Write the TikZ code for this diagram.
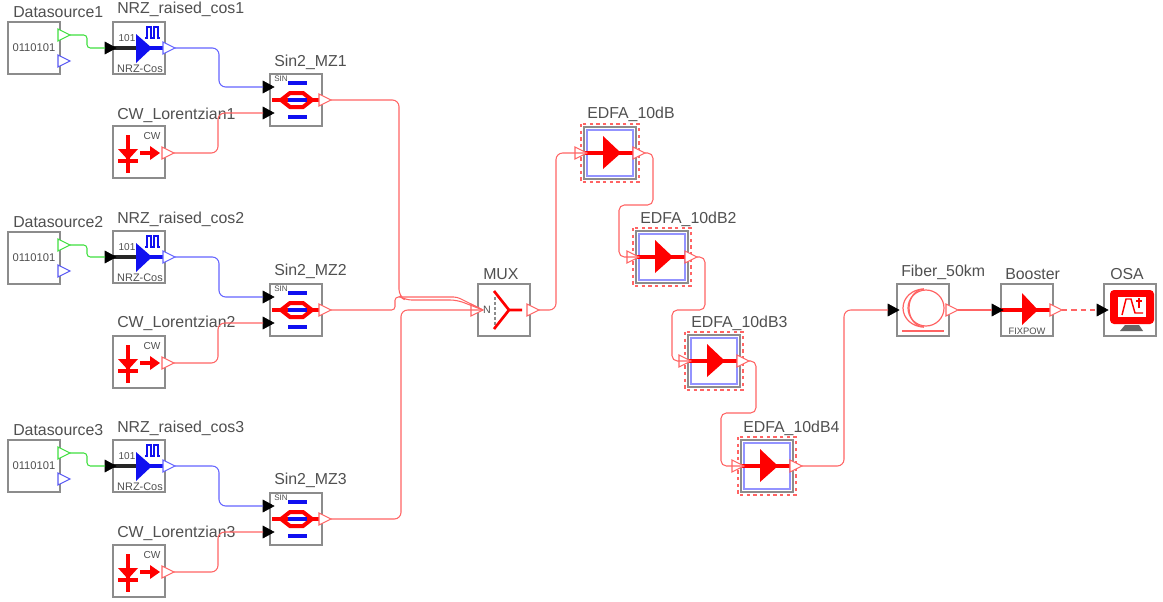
\documentclass[tikz,border=0pt]{standalone}
\usepackage{fontspec}
\setmainfont{Liberation Sans}
\definecolor{wr}{HTML}{FF6464}
\definecolor{wb}{HTML}{6464FF}
\definecolor{wg}{HTML}{40E040}
\definecolor{sred}{HTML}{FF0000}
\definecolor{sblue}{HTML}{1010F0}
\definecolor{boxg}{HTML}{8C8C8C}
\definecolor{txt}{HTML}{505050}
\tikzset{
  x=0.75pt,y=-0.75pt,
  blockbox/.style={draw=boxg,line width=1pt,fill=white,minimum width=39pt,minimum height=39pt,inner sep=0pt,outer sep=0pt,anchor=north west},
  lbl/.style={text=txt,font=\fontsize{11.9pt}{13pt}\selectfont,anchor=west,inner sep=0pt},
  tiny/.style={text=txt,inner sep=0pt},
  conn/.style={line width=0.8pt,rounded corners=5pt},
  redc/.style={conn,draw=wr},
  bluec/.style={conn,draw=wb},
  greenc/.style={conn,draw=wg,rounded corners=2.5pt},
  chainc/.style={redc,rounded corners=4pt},
  thickred/.style={draw=sred,line width=2.8pt},
  thickblue/.style={draw=sblue,line width=3pt},
  outp/.style={line width=0.8pt,fill=white},
  inblack/.style={draw=black,fill=black,line width=0.4pt},
}
\newcommand{\portOut}[4]{\draw[outp,draw=#1] (#3,#4-6)--(#3+12,#4)--(#3,#4+6)--cycle; \coordinate (#2) at (#3+12,#4);}
\newcommand{\portIn}[3]{\draw[inblack] (#2,#3-6)--(#2+11,#3)--(#2,#3+6)--cycle; \coordinate (#1) at (#2,#3);}
\newcommand{\blkData}[3]{\begin{scope}[shift={(#2,#3)}]
  \node[blockbox] (ds#1) at (0,0) {};
  \node[tiny,font=\fontsize{8.4pt}{9pt}\selectfont] (dst#1) at (26,26) {0110101};
  \portOut{wg}{ds#1a}{50}{13}\portOut{sblue!70}{ds#1b}{50}{39}
\end{scope}}
\newcommand{\blkNRZ}[3]{\begin{scope}[shift={(#2,#3)}]
  \node[blockbox] (nrz#1) at (0,0) {};
  \draw[black!85,line width=3pt] (0,26)--(25,26);
  \draw[thickblue] (30,26)--(50,26);
  \fill[sblue] (23,12)--(39,26)--(23,41)--cycle;
  \draw[sblue,line width=1.1pt] (32,16)--(34,16)--(34,5)--(38,5)--(38,16)--(41,16)--(41,5)--(45,5)--(45,16)--(47,16);
  \node[tiny,font=\fontsize{7.5pt}{8pt}\selectfont] (nrzu#1) at (14,16) {101};
  \node[tiny,font=\fontsize{8.2pt}{8pt}\selectfont] (nrzt#1) at (27,47) {NRZ-Cos};
  \portIn{nrz#1i}{-8}{26}\portOut{wb}{nrz#1o}{50}{26}
\end{scope}}
\newcommand{\blkMZ}[3]{\begin{scope}[shift={(#2,#3)}]
  \node[blockbox] (mz#1) at (0,0) {};
  \draw[thickred] (2,26)--(50,26);
  \draw[thickred,line width=3pt] (11,26)--(20,19)--(33,19)--(42,26)--(33,33)--(20,33)--cycle;
  \draw[thickblue] (18,9)--(37,9) (18,26)--(37,26) (18,43)--(37,43);
  \node[tiny,font=\fontsize{6pt}{6pt}\selectfont] (mzt#1) at (11,5) {SIN};
  \portIn{mz#1a}{-7}{13}\portIn{mz#1b}{-7}{39}\portOut{wr}{mz#1o}{49}{26}
\end{scope}}
\newcommand{\blkCW}[3]{\begin{scope}[shift={(#2,#3)}]
  \node[blockbox] (cw#1) at (0,0) {};
  \draw[thickred] (15,9)--(15,47) (5,35)--(25,35);
  \fill[sred] (5,23)--(25,23)--(15,34)--cycle;
  \draw[thickred,line width=3.2pt] (27,27)--(38,27);
  \fill[sred] (37,20)--(47,27)--(37,34)--cycle;
  \node[tiny,font=\fontsize{7.6pt}{8pt}\selectfont] (cwt#1) at (39,10) {CW};
  \portOut{wr}{cw#1o}{49}{27}
\end{scope}}
\newcommand{\blkEDFA}[3]{\begin{scope}[shift={(#2,#3)}]
  \node[blockbox] (ed#1) at (0,0) {};
  \draw[wr,line width=1.5pt,dash pattern=on 2.5pt off 2.5pt] (-3,-3) rectangle (55,55);
  \draw[wb!70,line width=1.2pt] (3,3) rectangle (49,49);
  \draw[thickred] (0,26)--(50,26);
  \fill[sred] (19,9)--(37,26)--(19,42)--cycle;
  \portOut{wr}{ed#1i}{-9}{26}\portOut{wr}{ed#1o}{49}{26}
\end{scope}}
\begin{document}
\begin{tikzpicture}
\useasboundingbox (0,0) rectangle (1163,601);
\fill[white] (0,0) rectangle (1163,601);
\blkData{1}{8}{22}\blkNRZ{1}{113}{22}\blkMZ{1}{270}{74}\blkCW{1}{113}{126}
\blkData{2}{8}{232}\blkNRZ{2}{113}{231}\blkMZ{2}{270}{284}\blkCW{2}{113}{336}
\blkData{3}{8}{440}\blkNRZ{3}{113}{440}\blkMZ{3}{270}{493}\blkCW{3}{113}{545}
\node[lbl] (l1) at (13,12) {Datasource1};
\node[lbl] (l2) at (117,9) {NRZ\_raised\_cos1};
\node[lbl] (l3) at (274,62) {Sin2\_MZ1};
\node[lbl] (l4) at (117,115) {CW\_Lorentzian1};
\node[lbl] (l5) at (13,222) {Datasource2};
\node[lbl] (l6) at (117,219) {NRZ\_raised\_cos2};
\node[lbl] (l7) at (274,271) {Sin2\_MZ2};
\node[lbl] (l8) at (117,323) {CW\_Lorentzian2};
\node[lbl] (l9) at (13,430) {Datasource3};
\node[lbl] (l10) at (117,428) {NRZ\_raised\_cos3};
\node[lbl] (l11) at (274,480) {Sin2\_MZ3};
\node[lbl] (l12) at (117,533) {CW\_Lorentzian3};
\node[lbl] (l13) at (483,274) {MUX};
\node[lbl] (l14) at (587,114) {EDFA\_10dB};
\node[lbl] (l15) at (640,219) {EDFA\_10dB2};
\node[lbl] (l16) at (691,323) {EDFA\_10dB3};
\node[lbl] (l17) at (743,428) {EDFA\_10dB4};
\node[lbl] (l18) at (901,272) {Fiber\_50km};
\node[lbl] (l19) at (1005,274) {Booster};
\node[lbl] (l20) at (1110,274) {OSA};
\begin{scope}[shift={(478,284)}]
  \node[blockbox] (mux) at (0,0) {};
  \node[tiny,font=\fontsize{8pt}{8pt}\selectfont] (muxn) at (9,26) {N};
  \draw[boxg,line width=1.1pt,dash pattern=on 2.2pt off 1.5pt] (17,13)--(17,43);
  \draw[thickred,line width=2pt] (16,7)--(31,26)--(16,45) (31,26)--(44,26);
  \portOut{wr}{muxi}{-7}{26}\portOut{wr}{muxo}{49}{26}
\end{scope}
\blkEDFA{1}{584}{127}\blkEDFA{2}{636}{231}\blkEDFA{3}{688}{335}\blkEDFA{4}{741}{440}
\begin{scope}[shift={(897,284)}]
  \node[blockbox] (fib) at (0,0) {};
  \draw[wr,line width=0.9pt] (29,24) circle (18);
  \draw[wr,line width=0.9pt] (27,5) arc (270:90:21 and 19);
  \draw[wr,line width=0.9pt] (27,5) arc (270:90:15 and 19);
  \draw[wr,line width=0.9pt] (5,47)--(47,47);
  \portIn{fibi}{-9}{26}\portOut{wr}{fibo}{49}{26}
\end{scope}
\begin{scope}[shift={(1001,284)}]
  \node[blockbox] (boo) at (0,0) {};
  \draw[thickred] (0,26)--(50,26);
  \fill[sred] (21,9)--(37,26)--(21,41)--cycle;
  \node[tiny,font=\fontsize{7pt}{7pt}\selectfont] (boot) at (26,47) {FIXPOW};
  \portIn{booi}{-9}{26}\portOut{wr}{booo}{49}{26}
\end{scope}
\begin{scope}[shift={(1104,284)}]
  \node[blockbox] (osa) at (0,0) {};
  \fill[sred,rounded corners=3pt] (6,6) rectangle (50,40);
  \fill[white] (14,13) rectangle (42,33);
  \draw[sred,line width=1.1pt] (18,31)--(22,15)--(27,15)--(31,29)--(39,29);
  \draw[sred,line width=1.1pt] (35,14)--(35,24) (32,17)--(38,17);
  \fill[black!60] (21,41)--(35,41)--(39,47)--(16,47)--cycle;
  \portIn{osai}{-7}{26}
\end{scope}
\foreach \n in {1,2,3}{
  \draw[greenc] (ds\n a) -- ++(17,0) |- (nrz\n i);
  \draw[bluec] (nrz\n o) -- ++(44,0) |- (mz\n a);
  \draw[redc] (cw\n o) -- ++(44,0) |- (mz\n b);
}
\draw[redc] (mz1o) -- ++(68,0) -- ++(0,196) -- ++(6,4) -- ++(52,0) -- (muxi);
\draw[redc,rounded corners=2.5pt] (mz2o) -- ++(64,0) -- ++(0,-13) -- ++(62,0) -- (muxi);
\draw[redc] (mz3o) -- ++(70,0) -- ++(0,-209) -- (muxi);
\draw[redc] (muxo) -- ++(17,0) |- (ed1i);
\draw[chainc] (ed1o) -- ++(8,0) -- ++(0,52) -- ++(-34,0) |- (ed2i);
\draw[chainc] (ed2o) -- ++(8,0) -- ++(0,53) -- ++(-33,0) |- (ed3i);
\draw[chainc] (ed3o) -- ++(7,0) -- ++(0,52) -- ++(-35,0) |- (ed4i);
\draw[redc] (ed4o) -- ++(42,0) |- (fibi);
\draw[redc] (fibo) -- (booi);
\draw[redc,line width=1pt,dash pattern=on 4pt off 3pt] (booo) -- (osai);
\end{tikzpicture}
\end{document}
